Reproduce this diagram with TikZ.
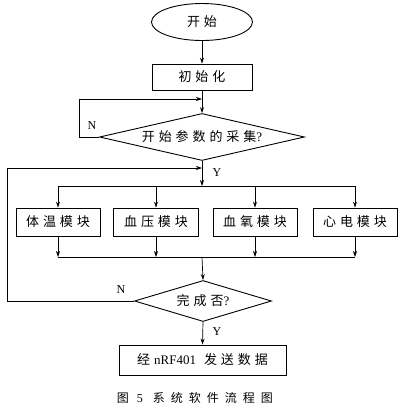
\documentclass[tikz,border=0pt]{standalone}
\usepackage{fontspec}
\setmainfont{Liberation Serif}
\newfontfamily\cjk[LetterSpace=30]{Noto Sans CJK SC}
\newfontfamily\cjkcap[LetterSpace=50]{Noto Sans CJK SC}
\usetikzlibrary{shapes.geometric,arrows.meta}
\begin{document}
\begin{tikzpicture}[x=1pt,y=-1pt,
  every node/.style={font=\fontsize{13pt}{15pt}\selectfont},
  box/.style={draw,line width=0.9pt,rectangle,inner sep=0pt,minimum height=28pt},
  dec/.style={draw,line width=0.9pt,diamond,inner sep=0pt},
  arr/.style={line width=0.7pt,-{Stealth[length=6pt,width=4pt]}},
  ln/.style={line width=0.7pt},
  lab/.style={font=\fontsize{12pt}{14pt}\selectfont}]
\useasboundingbox (0,0) rectangle (401,416);
\node[draw,line width=0.9pt,ellipse,inner sep=0pt,minimum width=101pt,minimum height=37pt] (start) at (202,22) {\cjk 开始};
\node[box,minimum width=100pt,minimum height=26pt] (init) at (202,77) {\cjk 初始化};
\node[dec,aspect=4.3,minimum width=205pt,minimum height=47pt] (d1) at (202,137) {{\cjk 开始参数的采集}?};
\node[box,minimum width=84pt] (m1) at (58,222) {\cjk 体温模块};
\node[box,minimum width=85pt] (m2) at (156,222) {\cjk 血压模块};
\node[box,minimum width=84pt] (m3) at (255,222) {\cjk 血氧模块};
\node[box,minimum width=84pt] (m4) at (355,222) {\cjk 心电模块};
\node[dec,aspect=3.3,minimum width=137pt,minimum height=41pt] (d2) at (203,301) {{\cjk 完成否}?};
\node[box,minimum width=167pt,minimum height=30pt] (send) at (202.5,360) {{\cjk 经}\hspace{4pt}nRF401\hspace{8pt}{\cjk 发送数据}};
\node[font=\fontsize{12pt}{14pt}\selectfont] (cap) at (195,398) {{\cjkcap 图}\hspace{8pt}5\hspace{10pt}{\cjkcap 系统软件流程图}};
\coordinate (j1) at (202,99);
\coordinate (j2) at (202,168);
\coordinate (b) at (202,186);
\coordinate (m) at (202,257);
\draw[arr] (start.south) -- (init.north);
\draw[arr] (init.south) -- (d1.north);
\draw[arr] (d1.west) -- (79,137) |- (j1);
\draw[arr] (d1.south) -- (b);
\draw[ln] (b -| m1.north) -- (b -| m4.north);
\foreach \k in {m1,m2,m3,m4} {
  \draw[arr] (b -| \k.north) -- (\k.north);
  \draw[arr] (\k.south) -- (\k.south |- m);
}
\draw[ln] (m -| m1.south) -- (m -| m4.south);
\draw[arr] (m) -- (d2.north);
\draw[arr] (d2.west) -- (7,301) |- (j2);
\draw[arr] (d2.south) -- (send.north);
\node[lab] (n1) at (92,126) {N};
\node[lab] (y1) at (217,173) {Y};
\node[lab] (n2) at (121,290) {N};
\node[lab] (y2) at (217,332) {Y};
\end{tikzpicture}
\end{document}
